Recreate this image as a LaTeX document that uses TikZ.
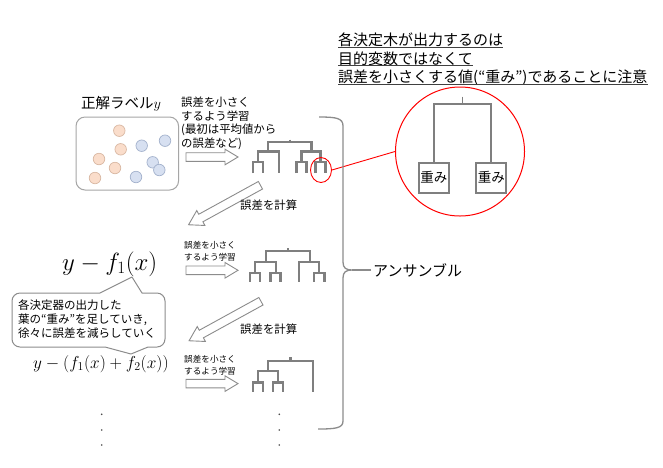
\documentclass[tikz,border=0pt]{standalone}
\usepackage{fontspec}
\setmainfont{Noto Sans CJK JP}
\usetikzlibrary{shapes.geometric}
\definecolor{treegray}{HTML}{7F7F7F}
\definecolor{arrgray}{HTML}{8C8C8C}
\definecolor{boxgray}{HTML}{A6A6A6}
\definecolor{orfill}{HTML}{FADDCB}
\definecolor{ordraw}{HTML}{D9B8A3}
\definecolor{blfill}{HTML}{D7E0F1}
\definecolor{bldraw}{HTML}{A3B1CC}
\newcommand\jfs[2]{\fontsize{#1}{#2}\selectfont}
\tikzset{
  tree/.style={draw=treegray, line width=2.3pt},
  treeb/.style={draw=treegray, line width=1.7pt},
  barrowline/.style={draw=arrgray, line width=0.9pt, fill=white, line join=miter},
  dotor/.style={circle, draw=ordraw, fill=orfill, line width=0.7pt, minimum size=11.5pt, inner sep=0pt},
  dotbl/.style={circle, draw=bldraw, fill=blfill, line width=0.7pt, minimum size=11.5pt, inner sep=0pt},
  jtext/.style={inner sep=0pt, anchor=west, align=left},
  uline/.style={draw=black!75, line width=1.2pt},
  wbox/.style={draw=treegray, line width=1.7pt, minimum size=30pt, inner sep=0pt, font=\jfs{13.5}{15}},
  bracel/.style={draw=arrgray, line width=1.3pt},
  calloutb/.style={draw=arrgray, line width=1pt, fill=white, line join=round},
  vdot/.style={circle, fill=black!70, minimum size=1.8pt, inner sep=0pt},
  harrow/.pic={\draw[barrowline] (-26,-4.3) -- (13,-4.3) -- (13,-7.8) -- (26,0) -- (13,7.8) -- (13,4.3) -- (-26,4.3) -- cycle;},
  darrow/.pic={\draw[barrowline] (-41,-4.3) -- (27,-4.3) -- (27,-8.5) -- (41,0) -- (27,8.5) -- (27,4.3) -- (-41,4.3) -- cycle;}
}
\begin{document}
\begin{tikzpicture}[x=1pt,y=-1pt]
\useasboundingbox[fill=white] (0,0) rectangle (663,467);

% top note
\node[inner sep=0pt, anchor=base west, font=\jfs{15}{18}] (n1) at (338,45.5) {各決定木が出力するのは};
\node[inner sep=0pt, anchor=base west, font=\jfs{15}{18}] (n2) at (338,64) {目的変数ではなくて};
\node[inner sep=0pt, anchor=base west, font=\jfs{15}{18}] (n3) at (338,82.3) {誤差を小さくする値(“重み”)であることに注意};
\draw[uline] ([yshift=-1.8pt]n1.base west) -- ([yshift=-1.8pt]n1.base east);
\draw[uline] ([yshift=-1.8pt]n2.base west) -- ([yshift=-1.8pt]n2.base east);
\draw[uline] ([yshift=-1.8pt]n3.base west) -- ([yshift=-1.8pt]n3.base east);

% label box
\node[jtext, font=\jfs{14.5}{17}] (title) at (81,104) {正解ラベル$y$};
\node[draw=boxgray, line width=1pt, rounded corners=9pt, minimum width=102.5pt, minimum height=73pt] (databox) at (127.3,153.5) {};
\node[dotor] (d1) at (119.3,130.7) {};
\node[dotor] (d2) at (120.7,149.3) {};
\node[dotor] (d3) at (99,159) {};
\node[dotor] (d4) at (115,168) {};
\node[dotor] (d5) at (95,178) {};
\node[dotbl] (d6) at (141.7,145.7) {};
\node[dotbl] (d7) at (165,140.7) {};
\node[dotbl] (d8) at (152.7,162.3) {};
\node[dotbl] (d9) at (159.3,170) {};
\node[dotbl] (d10) at (136,177) {};

% learning texts and arrows
\node[jtext, font=\jfs{11.4}{13.4}] (learn1) at (181,123.3) {誤差を小さく\\するよう学習\\(最初は平均値から\\の誤差など)};
\pic (ha1) at (212,157) {harrow};
\node[jtext, font=\jfs{8.6}{11.5}] (learn2) at (184,251) {誤差を小さく\\するよう学習};
\pic (ha2) at (212,270.3) {harrow};
\node[jtext, font=\jfs{8.6}{11.5}] (learn3) at (184,365) {誤差を小さく\\するよう学習};
\pic (ha3) at (212,383.6) {harrow};

% error arrows
\pic[rotate=208.8] (da1) at (224.5,205) {darrow};
\node[jtext, font=\jfs{11.4}{13}] (err1) at (240,205) {誤差を計算};
\pic[rotate=208.8] (da2) at (225,321) {darrow};
\node[jtext, font=\jfs{11.4}{13}] (err2) at (240,329) {誤差を計算};

% tree 1
\draw[tree] (290,139.5) -- (290,142.3);
\draw[tree] (268.3,151.5) |- (311.5,142.3) -- (311.5,151.5);
\draw[tree] (258,162) |- (279,151.5) -- (279,173);
\draw[tree] (252.7,173) |- (262.7,162) -- (262.7,173);
\draw[tree] (301.5,162) |- (320.5,151.5) -- (320.5,162);
\draw[tree] (296.5,173) |- (306.5,162) -- (306.5,173);
\draw[tree] (315.5,173) |- (325.5,162) -- (325.5,173);

% tree 2
\draw[tree] (288,248.3) -- (288,251);
\draw[tree] (266,261.7) |- (310,251) -- (310,261.7);
\draw[tree] (255,273.3) |- (276,261.7) -- (276,273.3);
\draw[tree] (250,281.7) |- (260,273.3) -- (260,281.7);
\draw[tree] (270.5,281.7) |- (280.5,273.3) -- (280.5,281.7);
\draw[tree] (299.3,281.7) |- (319.3,261.7) -- (319.3,273.3);
\draw[tree] (314,281.7) |- (324.5,273.3) -- (324.5,281.7);

% tree 3
\draw[tree] (290.5,357.3) -- (290.5,360.7);
\draw[tree] (268.3,371) |- (312.7,360.7) -- (312.7,391.7);
\draw[tree] (257.7,382.5) |- (278,371) -- (278,382.5);
\draw[tree] (252.7,391.7) |- (262.7,382.5) -- (262.7,391.7);
\draw[tree] (273,391.7) |- (283,382.5) -- (283,391.7);

% zoom circle
\node[ellipse, draw=red, line width=0.9pt, minimum width=21pt, minimum height=25pt, inner sep=0pt] (sel) at (321,170) {};
\node[circle, draw=red, line width=1pt, minimum size=129pt, inner sep=0pt] (bigc) at (460,151.5) {};
\draw[red, line width=0.9pt] (sel.east) -- (bigc.west);
\node[wbox] (w1) at (433.8,177.7) {重み};
\node[wbox] (w2) at (491.3,177.7) {重み};
\coordinate (wtop) at (462.5,104);
\draw[treeb] (462.5,96.7) -- (wtop);
\draw[treeb] (w1.north) |- (w2.north |- wtop) -- (w2.north);

% brace
\draw[bracel] (319,117) .. controls (336,117) and (343,118) .. (343,126) -- (343,262) .. controls (343,268) and (346,270) .. (352,270) .. controls (346,270) and (343,272) .. (343,278) -- (343,421) .. controls (343,428) and (336,429) .. (318,429);
\coordinate (btip) at (352,270);
\node[jtext, font=\jfs{15}{17}, inner sep=2pt] (ens) at (371,270) {アンサンブル};
\draw[bracel] (btip) -- (ens.west);

% formulas
\node[anchor=west, inner sep=0pt, font=\jfs{24}{28}] (f1) at (62,264) {$y - f_1(x)$};
\node[anchor=west, inner sep=0pt, font=\jfs{16.5}{19}] (f2) at (33,364) {$y - (f_1(x) + f_2(x))$};

% callout
\draw[calloutb] (20,293) -- (100,293) -- (132,277) -- (142,293) -- (157,293)
  arc[start angle=-90, end angle=0, radius=8] -- (165,339)
  arc[start angle=0, end angle=90, radius=8] -- (148,347) -- (131,354) -- (105,347) -- (20,347)
  arc[start angle=90, end angle=180, radius=8] -- (12,301)
  arc[start angle=180, end angle=270, radius=8] -- cycle;
\node[jtext, font=\jfs{11.5}{14}] (note) at (18,319.5) {各決定器の出力した\\葉の“重み”を足していき,\\徐々に誤差を減らしていく};

% dots
\node[vdot] (v1) at (101.7,414.3) {};
\node[vdot] (v2) at (101.7,430) {};
\node[vdot] (v3) at (101.7,445) {};
\node[vdot] (v4) at (279.3,414.3) {};
\node[vdot] (v5) at (279.3,430) {};
\node[vdot] (v6) at (279.3,445) {};
\end{tikzpicture}
\end{document}
